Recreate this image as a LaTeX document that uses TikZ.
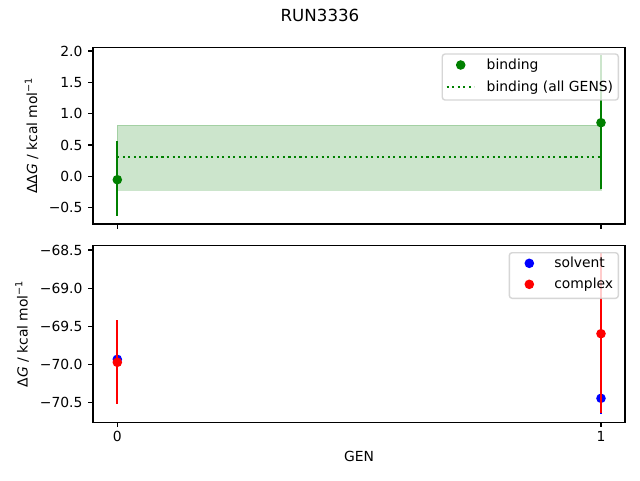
\documentclass[tikz,border=0pt]{standalone}
\usepackage{fontspec}
\setmainfont{DejaVu Sans}
\definecolor{mplgreen}{RGB}{0,128,0}
\definecolor{mplblue}{RGB}{0,0,255}
\definecolor{mplred}{RGB}{255,0,0}
\definecolor{legedge}{RGB}{204,204,204}
\begin{document}
\begin{tikzpicture}[x=1pt,y=-1pt,
  every node/.style={inner sep=0pt, outer sep=0pt, font=\fontsize{13.89}{16}\selectfont},
  spine/.style={line width=1.11pt, black},
  tickln/.style={line width=1.11pt, black},
  ebar/.style={line width=2.08pt, line cap=butt},
  ylab/.style={anchor=east},
  xlab/.style={anchor=base},
  legbox/.style={draw=legedge, fill=white, fill opacity=0.8, draw opacity=0.8, line width=1.39pt, rounded corners=2.8pt},
  legtxt/.style={anchor=base west},
  dotline/.style={mplgreen, line width=2.08pt, dash pattern=on 2.08pt off 3.44pt}
]
\useasboundingbox (0,0) rectangle (640,480);
\fill[white] (0,0) rectangle (640,480);

% title
\node[anchor=base, font=\fontsize{16.67}{20}\selectfont] (title) at (320,21.7) {RUN3336};

% ================= top axes =================
\fill[mplgreen, fill opacity=0.2] (117.3,125.3) rectangle (601,190.3);
\draw[mplgreen, draw opacity=0.2, line width=1.39pt] (117.3,125.3) rectangle (601,190.3);
\draw[dotline] (117.3,156.7) -- (601,156.7);
% errorbars
\draw[ebar, mplgreen] (117.3,141) -- (117.3,215.7);
\fill[mplgreen] (117.3,179.7) circle[radius=4.8pt];
\draw[ebar, mplgreen] (601,55) -- (601,189);
\fill[mplgreen] (601,122.7) circle[radius=4.8pt];
% spines
\draw[spine] (93,47.3) rectangle (625,224);
% y ticks
\foreach \yy/\lab in {51/2.0, 82.3/1.5, 113.6/1.0, 145/0.5, 176.3/0.0, 207.7/−0.5}{
  \draw[tickln] (93,\yy) -- (88.14,\yy);
  \node[ylab] at (82.5,\yy) {\lab};
}
% x ticks (no labels)
\draw[tickln] (117.3,224) -- (117.3,228.86);
\draw[tickln] (601,224) -- (601,228.86);
% y label
\node[anchor=base, rotate=90] (ylabtop) at (37,135.6) {ΔΔ\textit{G} / kcal mol\textsuperscript{−1}};
% legend
\draw[legbox] (442.3,54) rectangle (618.3,100);
\fill[mplgreen] (460.7,65) circle[radius=4.8pt];
\node[legtxt] (lb1) at (486.7,69.3) {binding};
\draw[dotline] (446.7,86.7) -- (474.3,86.7);
\node[legtxt] (lb2) at (486.7,91) {binding (all GENS)};

% ================= bottom axes =================
\draw[ebar, mplblue] (117.3,344) -- (117.3,374.6);
\fill[mplblue] (117.3,359.3) circle[radius=4.8pt];
\draw[ebar, mplblue] (601,383) -- (601,413.8);
\fill[mplblue] (601,398.3) circle[radius=4.8pt];
\draw[ebar, mplred] (117.3,320) -- (117.3,404.3);
\fill[mplred] (117.3,362.3) circle[radius=4.8pt];
\draw[ebar, mplred] (601,253.3) -- (601,412.7);
\fill[mplred] (601,333.7) circle[radius=4.8pt];
% spines
\draw[spine] (93,245.3) rectangle (625,422.3);
% y ticks
\foreach \yy/\lab in {250/−68.5, 288.1/−69.0, 326.2/−69.5, 364.3/−70.0, 402.3/−70.5}{
  \draw[tickln] (93,\yy) -- (88.14,\yy);
  \node[ylab] at (82.5,\yy) {\lab};
}
% x ticks
\draw[tickln] (117.3,422.3) -- (117.3,427.16);
\draw[tickln] (601,422.3) -- (601,427.16);
\node[xlab] (xt0) at (117.3,441.7) {0};
\node[xlab] (xt1) at (601,441.7) {1};
\node[xlab] (xlabel) at (359,461.7) {GEN};
% y label
\node[anchor=base, rotate=90] (ylabbot) at (27.5,333.8) {Δ\textit{G} / kcal mol\textsuperscript{−1}};
% legend
\draw[legbox] (509.3,252.7) rectangle (618.3,298.3);
\fill[mplblue] (529.3,263.3) circle[radius=4.8pt];
\node[legtxt] (ls1) at (554.3,267.6) {solvent};
\fill[mplred] (529.3,284.3) circle[radius=4.8pt];
\node[legtxt] (ls2) at (554.3,288.6) {complex};
\end{tikzpicture}
\end{document}
